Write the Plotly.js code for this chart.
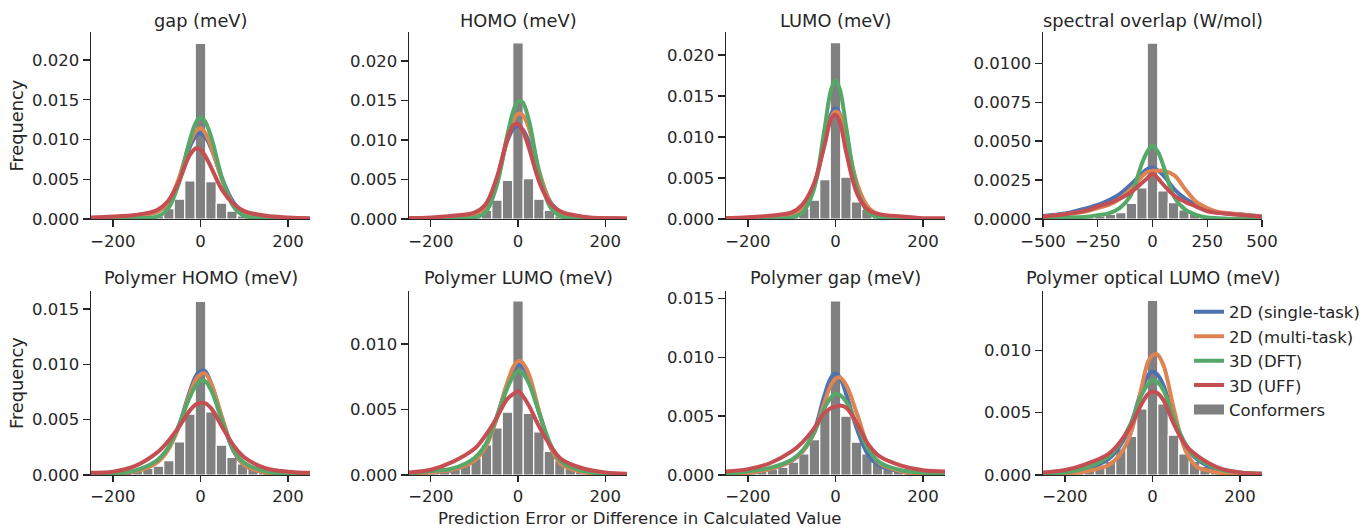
<!DOCTYPE html>
<html><head><meta charset="utf-8">
<script src="https://cdn.plot.ly/plotly-3.0.1.min.js"></script>
<style>html,body{margin:0;padding:0;background:#fff}#chart{width:1366px;height:529px}</style>
</head><body><div id="chart"></div>
<script>
// ---------------- DATA ----------------
const panelTitles = ["gap (meV)", "HOMO (meV)", "LUMO (meV)", "spectral overlap (W/mol)",
  "Polymer HOMO (meV)", "Polymer LUMO (meV)", "Polymer gap (meV)", "Polymer optical LUMO (meV)"];
const seriesNames = ["2D (single-task)", "2D (multi-task)", "3D (DFT)", "3D (UFF)"];
const histName = "Conformers";

// KDE evaluation grids
const gridMeV = [-250,-200,-150,-100,-75,-50,-25,-10,0,10,25,50,75,100,150,200,250];
const gridSO  = [-500,-400,-300,-250,-200,-150,-100,-50,-25,0,25,50,100,150,200,250,300,400,500];
// histogram bin centres
const binsMeV = [-240,-216,-192,-168,-144,-120,-96,-72,-48,-24,0,24,48,72,96,120,144,168,192,216,240];
const binsSO  = [-480,-432,-384,-336,-288,-240,-192,-144,-96,-48,0,48,96,144,192,240,288,336,384,432,480];

// gap (meV)
const gapSingle = [0.0001,0.0002,0.0004,0.0009,0.0019,0.0047,0.0090,0.0105,0.0108,0.0104,0.0088,0.0050,0.0021,0.0008,0.0002,0.0001,0];
const gapMulti  = [0.0001,0.0002,0.0004,0.0009,0.0020,0.0050,0.0095,0.0111,0.0114,0.0109,0.0090,0.0048,0.0018,0.0006,0.0002,0.0001,0];
const gapDFT    = [0,0,0.0001,0.0003,0.0012,0.0044,0.0098,0.0122,0.0128,0.0123,0.0102,0.0050,0.0016,0.0004,0.0001,0,0];
const gapUFF    = [0.0002,0.0003,0.0005,0.0011,0.0022,0.0046,0.0080,0.0089,0.0087,0.0080,0.0064,0.0036,0.0019,0.0010,0.0004,0.0002,0.0001];
const gapConf   = [0.00005,0.00005,0.0001,0.0001,0.0001,0.0002,0.0004,0.0013,0.0025,0.0048,0.0221,0.0047,0.0020,0.0010,0.0004,0.0002,0.0001,0.0001,0.0001,0.00005,0.00005];

// HOMO (meV)
const homoSingle = [0.0001,0.0001,0.0003,0.0007,0.0017,0.0048,0.0098,0.0115,0.0118,0.0114,0.0098,0.0055,0.0021,0.0008,0.0002,0.0001,0];
const homoMulti  = [0.0001,0.0001,0.0002,0.0006,0.0015,0.0045,0.0100,0.0126,0.0133,0.0132,0.0115,0.0058,0.0020,0.0007,0.0002,0.0001,0];
const homoDFT    = [0,0,0,0.0002,0.0008,0.0040,0.0105,0.0138,0.0149,0.0148,0.0125,0.0055,0.0014,0.0003,0,0,0];
const homoUFF    = [0.0001,0.0002,0.0004,0.0008,0.0018,0.0050,0.0100,0.0119,0.0120,0.0113,0.0090,0.0045,0.0019,0.0009,0.0003,0.0001,0.0001];
const homoConf   = [0.00005,0.00005,0.0001,0.0001,0.0001,0.0002,0.0004,0.0011,0.0024,0.0049,0.0223,0.0051,0.0025,0.0011,0.0004,0.0002,0.0001,0.0001,0.0001,0.00005,0.00005];

// LUMO (meV)
const lumoSingle = [0.0001,0.0001,0.0002,0.0005,0.0013,0.0038,0.0095,0.0128,0.0135,0.0128,0.0095,0.0040,0.0013,0.0005,0.0001,0,0];
const lumoMulti  = [0.0001,0.0001,0.0002,0.0005,0.0013,0.0038,0.0093,0.0124,0.0131,0.0127,0.0098,0.0042,0.0014,0.0005,0.0001,0,0];
const lumoDFT    = [0,0,0,0.0002,0.0008,0.0035,0.0110,0.0158,0.0169,0.0158,0.0110,0.0035,0.0008,0.0002,0,0,0];
const lumoUFF    = [0.0001,0.0002,0.0004,0.0008,0.0018,0.0042,0.0090,0.0122,0.0127,0.0118,0.0080,0.0030,0.0011,0.0006,0.0003,0.0001,0.0001];
const lumoConf   = [0.00005,0.00005,0.0001,0.0001,0.0001,0.0002,0.0004,0.0013,0.0023,0.0048,0.0215,0.0051,0.0021,0.0012,0.0004,0.0002,0.0001,0.0001,0.0001,0.00005,0.00005];

// spectral overlap (W/mol)
const soSingle = [0.0002,0.00035,0.0007,0.0009,0.0012,0.0016,0.0022,0.0029,0.0032,0.0033,0.0031,0.0028,0.0019,0.0013,0.0009,0.0006,0.0004,0.0003,0.00015];
const soMulti  = [0.00015,0.0003,0.0005,0.0007,0.0009,0.0013,0.0019,0.0027,0.0030,0.0031,0.0031,0.0031,0.0028,0.0019,0.0011,0.0007,0.00045,0.0003,0.00015];
const soDFT    = [0,0.0001,0.00015,0.00025,0.00036,0.0007,0.0015,0.0035,0.0043,0.0047,0.0043,0.0034,0.0014,0.0006,0.00027,0.0001,0.00005,0,0];
const soUFF    = [0.00015,0.0003,0.00055,0.0008,0.0010,0.0013,0.0017,0.0023,0.0026,0.0029,0.0026,0.0022,0.0015,0.0011,0.0008,0.0005,0.0004,0.00025,0.00015];
const soConf   = [0.00003,0.00005,0.00005,0.0001,0.0001,0.0002,0.0003,0.0004,0.0010,0.0020,0.0113,0.0018,0.00105,0.00058,0.00034,0.00015,0.0001,0.0001,0.00005,0.00005,0.00003];

// Polymer HOMO (meV)
const phomoSingle = [0,0.0001,0.0003,0.0012,0.0023,0.0044,0.0075,0.0090,0.0094,0.0094,0.0082,0.0050,0.0022,0.0009,0.0002,0.0001,0];
const phomoMulti  = [0,0.0001,0.0003,0.0011,0.0022,0.0043,0.0073,0.0087,0.0091,0.0092,0.0082,0.0051,0.0023,0.0009,0.0002,0.0001,0];
const phomoDFT    = [0,0.0001,0.0004,0.0013,0.0024,0.0044,0.0070,0.0081,0.0085,0.0085,0.0076,0.0048,0.0023,0.0011,0.0003,0.0001,0];
const phomoUFF    = [0.0002,0.0003,0.0008,0.0020,0.0030,0.0043,0.0058,0.0064,0.0065,0.0065,0.0060,0.0043,0.0027,0.0016,0.0006,0.0003,0.0002];
const phomoConf   = [0.0001,0.00012,0.0002,0.0003,0.0004,0.0006,0.0008,0.0013,0.0030,0.0055,0.0157,0.0057,0.0027,0.0016,0.0010,0.00066,0.00045,0.0003,0.0002,0.00012,0.0001];

// Polymer LUMO (meV)
const plumoSingle = [0.0001,0.0002,0.0004,0.0012,0.0022,0.0043,0.0069,0.0081,0.0084,0.0083,0.0074,0.0046,0.0021,0.0009,0.0003,0.0001,0];
const plumoMulti  = [0.0001,0.0002,0.0004,0.0011,0.0021,0.0042,0.0070,0.0083,0.0087,0.0086,0.0077,0.0047,0.0021,0.0008,0.0002,0.0001,0];
const plumoDFT    = [0.0001,0.0003,0.0005,0.0013,0.0023,0.0043,0.0066,0.0076,0.0079,0.0078,0.0070,0.0046,0.0023,0.0010,0.0003,0.0001,0];
const plumoUFF    = [0.0002,0.0004,0.0010,0.0020,0.0030,0.0043,0.0058,0.0062,0.0064,0.0061,0.0053,0.0036,0.0022,0.0012,0.0005,0.0002,0.0001];
const plumoConf   = [0.0001,0.0002,0.0003,0.0004,0.0006,0.0009,0.0013,0.0023,0.0036,0.0048,0.0133,0.0047,0.0033,0.0018,0.0011,0.0008,0.0005,0.0003,0.0002,0.0001,0.0001];

// Polymer gap (meV)
const pgapSingle = [0.0001,0.0002,0.0005,0.0012,0.0020,0.0036,0.0068,0.0083,0.0086,0.0083,0.0068,0.0038,0.0017,0.0008,0.0003,0.0001,0];
const pgapMulti  = [0.0001,0.0002,0.0005,0.0012,0.0020,0.0035,0.0062,0.0077,0.0082,0.0083,0.0076,0.0051,0.0024,0.0010,0.0003,0.0001,0.0001];
const pgapDFT    = [0.0001,0.0003,0.0006,0.0013,0.0021,0.0035,0.0057,0.0066,0.0069,0.0068,0.0062,0.0042,0.0022,0.0011,0.0004,0.0002,0.0001];
const pgapUFF    = [0.0003,0.0005,0.0010,0.0020,0.0028,0.0039,0.0053,0.0057,0.0058,0.0059,0.0057,0.0043,0.0026,0.0016,0.0008,0.0004,0.0003];
const pgapConf   = [0.0001,0.0002,0.0003,0.0004,0.0005,0.00065,0.0011,0.0018,0.0030,0.0055,0.0148,0.0050,0.0028,0.0018,0.0010,0.0006,0.0003,0.0002,0.0002,0.0001,0.0001];

// Polymer optical LUMO (meV)
const polSingle = [0.0001,0.0002,0.0005,0.0013,0.0023,0.0040,0.0068,0.0080,0.0083,0.0081,0.0072,0.0044,0.0024,0.0013,0.0004,0.0001,0.0001];
const polMulti  = [0,0.0001,0.0003,0.0008,0.0016,0.0033,0.0070,0.0091,0.0096,0.0097,0.0088,0.0051,0.0020,0.0007,0.0002,0,0];
const polDFT    = [0.0001,0.0002,0.0006,0.0015,0.0025,0.0041,0.0064,0.0073,0.0076,0.0075,0.0068,0.0044,0.0025,0.0014,0.0005,0.0002,0.0001];
const polUFF    = [0.0002,0.0004,0.0009,0.0017,0.0026,0.0039,0.0057,0.0065,0.0067,0.0066,0.0060,0.0040,0.0024,0.0016,0.0006,0.0002,0.0001];
const polConf   = [0.0001,0.0002,0.0002,0.0003,0.0005,0.0007,0.0011,0.0021,0.0031,0.0053,0.0140,0.0057,0.0032,0.0017,0.0011,0.0007,0.0004,0.0003,0.0002,0.0001,0.0001];

// axis config per panel
const xTickVals = [[-200,0,200],[-200,0,200],[-200,0,200],[-500,-250,0,250,500],[-200,0,200],[-200,0,200],[-200,0,200],[-200,0,200]];
const yTickVals = [
  [0,0.005,0.010,0.015,0.020],[0,0.005,0.010,0.015,0.020],[0,0.005,0.010,0.015,0.020],
  [0,0.0025,0.0050,0.0075,0.0100],
  [0,0.005,0.010,0.015],[0,0.005,0.010],[0,0.005,0.010,0.015],[0,0.005,0.010]];
const yTickFormat = [".3f",".3f",".3f",".4f",".3f",".3f",".3f",".3f"];
const xRanges = [[-250,250],[-250,250],[-250,250],[-500,500],[-250,250],[-250,250],[-250,250],[-250,250]];
const yTops = [0.02352,0.02367,0.0228,0.01201,0.01664,0.01406,0.01564,0.01476];

// ---------------- BUILD ----------------
const panels = [
  {grid: gridMeV, bins: binsMeV, bw: 24, s: [gapSingle, gapMulti, gapDFT, gapUFF], h: gapConf},
  {grid: gridMeV, bins: binsMeV, bw: 24, s: [homoSingle, homoMulti, homoDFT, homoUFF], h: homoConf},
  {grid: gridMeV, bins: binsMeV, bw: 24, s: [lumoSingle, lumoMulti, lumoDFT, lumoUFF], h: lumoConf},
  {grid: gridSO,  bins: binsSO,  bw: 48, s: [soSingle, soMulti, soDFT, soUFF], h: soConf},
  {grid: gridMeV, bins: binsMeV, bw: 24, s: [phomoSingle, phomoMulti, phomoDFT, phomoUFF], h: phomoConf},
  {grid: gridMeV, bins: binsMeV, bw: 24, s: [plumoSingle, plumoMulti, plumoDFT, plumoUFF], h: plumoConf},
  {grid: gridMeV, bins: binsMeV, bw: 24, s: [pgapSingle, pgapMulti, pgapDFT, pgapUFF], h: pgapConf},
  {grid: gridMeV, bins: binsMeV, bw: 24, s: [polSingle, polMulti, polDFT, polUFF], h: polConf}
];
const colors = ["#4C72B0", "#DD8452", "#55A868", "#C44E52"];
const barColor = "#808080";
const ink = "#262626";
const FONT = "DejaVu Sans";
const W = 1366, H = 529;
const colPx = [[91,310],[409,627],[726,945],[1043,1262]];
const rowPx = [[32,219],[291,475]];
const px2x = p => p / W;
const px2y = p => 1 - p / H;

const data = [];
const layout = {
  width: W, height: H,
  margin: {l: 0, r: 0, t: 0, b: 0},
  paper_bgcolor: "#fff", plot_bgcolor: "#fff",
  font: {family: FONT, color: ink, size: 16.5},
  showlegend: true,
  legend: {x: px2x(1189), xanchor: "left", y: px2y(294.5), yanchor: "top",
           font: {family: FONT, size: 16.5, color: ink}, bgcolor: "rgba(0,0,0,0)", borderwidth: 0,
           tracegroupgap: 0},
  bargap: 0,
  annotations: []
};

panels.forEach((p, i) => {
  const n = i + 1;
  const xa = "x" + (n === 1 ? "" : n), ya = "y" + (n === 1 ? "" : n);
  const col = i % 4, row = Math.floor(i / 4);
  // histogram
  data.push({type: "bar", x: p.bins, y: p.h, width: p.bw, xaxis: xa, yaxis: ya,
             marker: {color: barColor, line: {color: "#ffffff", width: 1.2}},
             name: histName, showlegend: false, hoverinfo: "x+y"});
  // KDE lines
  p.s.forEach((vals, k) => {
    data.push({type: "scatter", mode: "lines", x: p.grid, y: vals, xaxis: xa, yaxis: ya,
               line: {color: colors[k], width: 4, shape: "spline", smoothing: 1},
               name: seriesNames[k], legendgroup: seriesNames[k], showlegend: i === 0});
  });
  const axCommon = {showline: true, linecolor: ink, linewidth: 1.4, ticks: "outside", ticklen: 7,
                    tickwidth: 1.4, tickcolor: ink, showgrid: false, zeroline: false,
                    tickfont: {family: FONT, size: 16.5, color: ink}, fixedrange: true};
  layout["xaxis" + (n === 1 ? "" : n)] = Object.assign({}, axCommon, {
    domain: [px2x(colPx[col][0]), px2x(colPx[col][1])], anchor: ya,
    range: xRanges[i], tickmode: "array", tickvals: xTickVals[i], ticklen: row === 1 ? 6 : 7});
  layout["yaxis" + (n === 1 ? "" : n)] = Object.assign({}, axCommon, {
    domain: [px2y(rowPx[row][1]), px2y(rowPx[row][0])], anchor: xa,
    range: [0, yTops[i]], tickmode: "array", tickvals: yTickVals[i], tickformat: yTickFormat[i]});
  layout.annotations.push({text: panelTitles[i], xref: "paper", yref: "paper",
    x: px2x((colPx[col][0] + colPx[col][1]) / 2), y: px2y(row === 0 ? 20 : 277.5),
    xanchor: "center", yanchor: "middle", showarrow: false,
    font: {family: FONT, size: 17.8, color: ink}});
});
// legend entry for the histogram (bars themselves are drawn from the data above)
data.push({type: "scatter", mode: "lines", x: [null], y: [null], name: histName,
           line: {color: barColor, width: 10}, showlegend: true, hoverinfo: "skip"});

// y labels and common x label
[0, 1].forEach(r => {
  layout.annotations.push({text: "Frequency", xref: "paper", yref: "paper",
    x: px2x(16), y: px2y((rowPx[r][0] + rowPx[r][1]) / 2), textangle: -90,
    xanchor: "center", yanchor: "middle", showarrow: false,
    font: {family: FONT, size: 17.8, color: ink}});
});
layout.annotations.push({text: "Prediction Error or Difference in Calculated Value", xref: "paper", yref: "paper",
  x: px2x(640), y: 0, xanchor: "center", yanchor: "bottom", showarrow: false, borderpad: 0,
  font: {family: FONT, size: 16.5, color: ink}});

Plotly.newPlot("chart", data, layout, {displayModeBar: false, staticPlot: true});
</script></body></html>
